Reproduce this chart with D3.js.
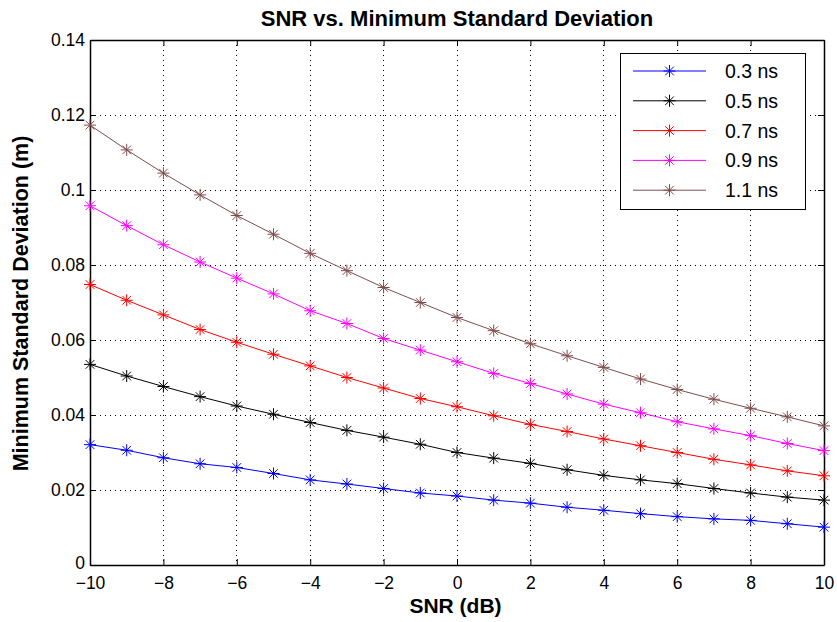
<!DOCTYPE html>
<html><head><meta charset="utf-8">
<script src="https://cdn.jsdelivr.net/npm/d3@7"></script>
<style>body{margin:0;background:#fff}svg{display:block}text{font-family:"Liberation Sans",Arial,sans-serif}</style>
</head><body><svg id="c" width="837" height="622"></svg>
<script>
const snr = d3.range(-10, 11, 1);
const seriesNames = ["0.3 ns","0.5 ns","0.7 ns","0.9 ns","1.1 ns"];
const seriesColors = ["#0000ff","#000000","#ff0000","#ff00ff","#804d4d"];
const s03 = [0.0321,0.0306,0.0286,0.0270,0.0260,0.0244,0.0227,0.0216,0.0204,0.0192,0.0184,0.0173,0.0165,0.0154,0.0146,0.0137,0.0129,0.0123,0.0119,0.0110,0.0101];
const s05 = [0.0535,0.0504,0.0476,0.0449,0.0424,0.0402,0.0380,0.0359,0.0341,0.0322,0.0300,0.0285,0.0271,0.0254,0.0239,0.0227,0.0217,0.0204,0.0192,0.0181,0.0173];
const s07 = [0.0748,0.0706,0.0667,0.0628,0.0594,0.0562,0.0531,0.0500,0.0472,0.0444,0.0422,0.0398,0.0375,0.0356,0.0336,0.0318,0.0300,0.0282,0.0267,0.0251,0.0238];
const s09 = [0.0958,0.0905,0.0854,0.0808,0.0765,0.0723,0.0678,0.0644,0.0604,0.0573,0.0542,0.0511,0.0484,0.0456,0.0429,0.0406,0.0382,0.0363,0.0345,0.0324,0.0305];
const s11 = [0.1173,0.1107,0.1045,0.0987,0.0932,0.0882,0.0831,0.0785,0.0740,0.0700,0.0660,0.0625,0.0590,0.0558,0.0527,0.0496,0.0468,0.0442,0.0418,0.0395,0.0371];
const seriesValues = [s03,s05,s07,s09,s11];
const xTicks = [-10,-8,-6,-4,-2,0,2,4,6,8,10];
const yTicks = [0,0.02,0.04,0.06,0.08,0.1,0.12,0.14];
const yTickLabels = ["0","0.02","0.04","0.06","0.08","0.1","0.12","0.14"];

const L=90,R=824,T=40,B=565;
const svg=d3.select("#c");
const x=d3.scaleLinear().domain([-10,10]).range([L,R]);
const y=d3.scaleLinear().domain([0,0.14]).range([B,T]);

// grid
const g=svg.append("g");
g.selectAll(".gx").data(xTicks.slice(1,-1)).join("line")
 .attr("x1",d=>x(d)).attr("x2",d=>x(d)).attr("y1",T).attr("y2",B)
 .attr("stroke","#000").attr("stroke-width",1).attr("stroke-dasharray","1,4").attr("shape-rendering","crispEdges");
g.selectAll(".gy").data(yTicks.slice(1,-1)).join("line")
 .attr("y1",d=>y(d)).attr("y2",d=>y(d)).attr("x1",L).attr("x2",R)
 .attr("stroke","#000").attr("stroke-width",1).attr("stroke-dasharray","1,4").attr("shape-rendering","crispEdges");

// axes
const fmtY=d=>yTickLabels[yTicks.indexOf(d)];
const fmtX=d=>d<0?"\u2212"+(-d):String(d);
const axB=svg.append("g").attr("transform",`translate(0,${B})`).call(d3.axisBottom(x).tickValues(xTicks).tickSizeInner(-6).tickSizeOuter(0).tickPadding(12).tickFormat(fmtX));
const axT=svg.append("g").attr("transform",`translate(0,${T})`).call(d3.axisTop(x).tickValues(xTicks).tickSizeInner(-6).tickSizeOuter(0).tickFormat(""));
const axL=svg.append("g").attr("transform",`translate(${L},0)`).call(d3.axisLeft(y).tickValues(yTicks).tickSizeInner(-6).tickSizeOuter(0).tickPadding(5).tickFormat(fmtY));
const axR=svg.append("g").attr("transform",`translate(${R},0)`).call(d3.axisRight(y).tickValues(yTicks).tickSizeInner(-6).tickSizeOuter(0).tickFormat(""));
[axB,axT,axL,axR].forEach(a=>{a.select(".domain").attr("stroke","#000").attr("stroke-width",1.5);a.selectAll(".tick line").attr("stroke","#000");a.selectAll("text").attr("font-size",17.5).attr("fill","#000").attr("font-family","'Liberation Sans',Arial,sans-serif");});
axL.selectAll("text").filter(d=>d===0).attr("dy","0.22em");

// series
const line=d3.line().x((d,i)=>x(snr[i])).y(d=>y(d));
const star=(sel,r,col)=>{
  sel.append("path").attr("d",`M0,${-r}V${r}M${-r*0.72},${-r*0.72}L${r*0.72},${r*0.72}M${-r*0.72},${r*0.72}L${r*0.72},${-r*0.72}M${-r},0H${r}`)
   .attr("stroke",col).attr("stroke-width",1).attr("fill","none");
};
seriesValues.forEach((vals,k)=>{
  const col=seriesColors[k];
  svg.append("path").datum(vals).attr("d",line).attr("fill","none").attr("stroke",col).attr("stroke-width",1);
  vals.forEach((v,i)=>{
    const m=svg.append("g").attr("transform",`translate(${x(snr[i])},${y(v)})`);
    star(m,6,col);
  });
});

// legend
const lg=svg.append("g");
lg.append("rect").attr("x",620.5).attr("y",53.5).attr("width",185).attr("height",156).attr("fill","#fff").attr("stroke","#000").attr("stroke-width",1);
seriesNames.forEach((n,k)=>{
  const yy=71+k*29.8;
  lg.append("line").attr("x1",633).attr("x2",706).attr("y1",yy).attr("y2",yy).attr("stroke",seriesColors[k]).attr("stroke-width",1);
  const m=lg.append("g").attr("transform",`translate(669.5,${yy})`);
  star(m,6,seriesColors[k]);
  lg.append("text").attr("x",725).attr("y",yy+7).attr("font-size",19.5).text(n);
});

// titles
svg.append("text").attr("x",457).attr("y",26).attr("text-anchor","middle").attr("font-weight","bold").attr("font-size",22).text("SNR vs. Minimum Standard Deviation");
svg.append("text").attr("x",455.5).attr("y",612.5).attr("text-anchor","middle").attr("font-weight","bold").attr("font-size",21).text("SNR (dB)");
svg.append("text").attr("transform",`translate(28,303.5) rotate(-90)`).attr("text-anchor","middle").attr("font-weight","bold").attr("font-size",21.5).text("Minimum Standard Deviation (m)");
</script></body></html>
